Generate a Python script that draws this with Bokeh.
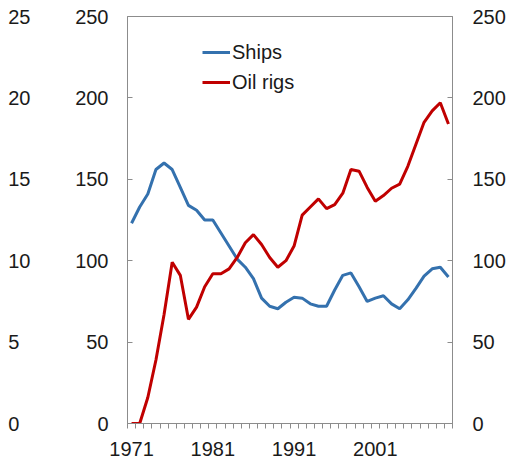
from bokeh.plotting import figure
from bokeh.models import (Range1d, LinearAxis, FixedTicker, Legend, LegendItem)
from bokeh.embed import file_html
from bokeh.resources import INLINE

years = [1971, 1972, 1973, 1974, 1975, 1976, 1977, 1978, 1979, 1980,
         1981, 1982, 1983, 1984, 1985, 1986, 1987, 1988, 1989, 1990,
         1991, 1992, 1993, 1994, 1995, 1996, 1997, 1998, 1999, 2000,
         2001, 2002, 2003, 2004, 2005, 2006, 2007, 2008, 2009, 2010]

ships = [123, 133, 141, 156, 160, 156, 145, 134, 131, 125,
         125, 117, 109, 101, 96, 89, 77, 72, 70.5, 74.5,
         77.5, 77, 73.5, 72, 72, 82, 91, 92.5, 84, 75,
         77, 78.5, 73.5, 70.5, 76, 83, 90.5, 95, 96, 90]

oil_rigs = [0, 0, 16, 39, 67, 99, 91, 64, 71.5, 84,
            92, 92, 95, 102, 111, 116, 110, 102, 96, 100,
            109, 128, 133, 138, 132, 134.5, 141.5, 156, 155, 145,
            136.5, 140, 144.5, 147, 158, 171.5, 185, 192, 197, 184]

x_tick_years = [1971, 1981, 1991, 2001]
y_ticks_main = [0, 50, 100, 150, 200, 250]
y_ticks_outer = [0, 5, 10, 15, 20, 25]

FONT = "Liberation Sans"
GRAY = "#8c8c8c"
TXT = "#1a1a1a"
BLUE = "#3471ae"
RED = "#c00000"

p = figure(width=510, height=459, output_backend="svg", toolbar_location=None,
           x_range=Range1d(1970.5, 2010.5), y_range=Range1d(0, 250),
           min_border_left=127, min_border_right=58, min_border_top=16,
           min_border_bottom=36)
p.extra_y_ranges = {"outer": Range1d(0, 25)}
p.grid.visible = False
p.outline_line_color = GRAY
p.background_fill_color = "white"
p.border_fill_color = "white"

r_ships = p.line(years, ships, line_color=BLUE, line_width=3)
r_rigs = p.line(years, oil_rigs, line_color=RED, line_width=3)

# x axis
xa = p.xaxis[0]
xa.ticker = FixedTicker(ticks=x_tick_years,
                        minor_ticks=[1970.5 + i for i in range(41)])
xa.major_tick_in = 0
xa.major_tick_out = 0
xa.minor_tick_in = 0
xa.minor_tick_out = 5
xa.minor_tick_line_color = GRAY
xa.axis_line_color = GRAY
xa.major_label_standoff = 13
xa.major_label_text_font = FONT
xa.major_label_text_font_size = "20px"
xa.major_label_text_color = TXT

def style_y(ax, ticks, standoff, show_line=True):
    ax.ticker = FixedTicker(ticks=ticks)
    ax.major_tick_in = 5 if show_line else 0
    ax.major_tick_out = 0
    ax.minor_tick_in = 0
    ax.minor_tick_out = 0
    ax.major_tick_line_color = GRAY if show_line else None
    ax.axis_line_color = GRAY if show_line else None
    ax.major_label_standoff = standoff
    ax.major_label_text_font = FONT
    ax.major_label_text_font_size = "20px"
    ax.major_label_text_color = TXT

style_y(p.yaxis[0], y_ticks_main, 19)

outer = LinearAxis(y_range_name="outer")
style_y(outer, y_ticks_outer, 42, show_line=False)
# single-digit labels are left-aligned with the two-digit ones in the reference
outer.major_label_overrides = {t: (str(t) + "\u2007" if t < 10 else str(t))
                               for t in y_ticks_outer}
p.add_layout(outer, "left")

right = LinearAxis()
style_y(right, y_ticks_main, 20)
p.add_layout(right, "right")

legend = Legend(items=[LegendItem(label="Ships", renderers=[r_ships]),
                       LegendItem(label="Oil rigs", renderers=[r_rigs])],
                location=(75, 326), orientation="vertical",
                background_fill_alpha=0, border_line_color=None,
                label_text_font=FONT, label_text_font_size="20px",
                label_text_color=TXT, glyph_width=28, glyph_height=30,
                label_height=30, label_standoff=2, spacing=0, padding=0,
                margin=0)
p.add_layout(legend, "center")

open("out.html", "w").write(file_html(p, INLINE))
